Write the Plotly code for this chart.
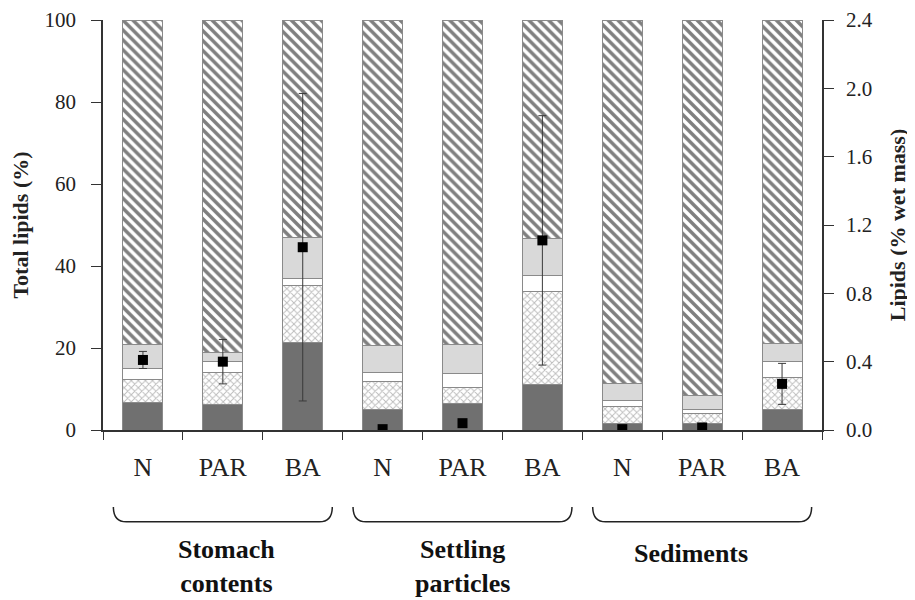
import plotly.graph_objects as go

groups = ["Stomach<br>contents", "Settling<br>particles", "Sediments"]
treatments = ["N", "PAR", "BA"]
categories = [f"{g}|{t}" for g in groups for t in treatments]
tick_labels = treatments * 3

# Lipid class composition (% of total lipids), bottom to top
seg_dark = [6.7, 6.3, 21.4, 5.0, 6.4, 11.2, 1.6, 1.6, 5.0]
seg_cross = [5.7, 7.8, 13.8, 6.8, 3.9, 22.5, 4.1, 2.5, 7.8]
seg_white = [2.6, 2.5, 1.7, 2.3, 3.4, 3.9, 1.6, 0.9, 3.9]
seg_gray = [5.9, 2.3, 10.1, 6.5, 7.2, 9.2, 4.1, 3.5, 4.4]
seg_hatch = [79.1, 81.1, 53.0, 79.4, 79.1, 53.2, 88.6, 91.5, 78.9]

# Total lipids (% wet mass), right axis
lipid_wet = [0.41, 0.40, 1.07, 0.005, 0.04, 1.11, 0.005, 0.015, 0.27]
lipid_err = [0.05, 0.13, 0.90, 0.0, 0.0, 0.73, 0.0, 0.0, 0.12]

FONT = "Liberation Serif, Times New Roman, serif"
OUT = "#8a8a8a"
AX = "#333333"

fig = go.Figure()

seg_styles = [
    (seg_dark, dict(color="#707070")),
    (seg_cross, dict(color="white", pattern=dict(shape="x", fgcolor="#7a7a7a", bgcolor="white", size=5, solidity=0.35))),
    (seg_white, dict(color="white")),
    (seg_gray, dict(color="#d9d9d9")),
    (seg_hatch, dict(color="white", pattern=dict(shape="\\", fgcolor="#000000", bgcolor="white", size=7, solidity=0.5))),
]
for vals, mk in seg_styles:
    mk = dict(mk)
    mk["line"] = dict(color=OUT, width=1)
    fig.add_trace(go.Bar(x=categories, y=vals, marker=mk, showlegend=False,
                         hoverinfo="skip"))

fig.add_trace(go.Scatter(
    x=categories, y=lipid_wet, yaxis="y2", mode="markers",
    marker=dict(symbol="square", size=10, color="black"),
    error_y=dict(type="data", array=lipid_err, visible=True, color="#3a3a3a",
                 thickness=1, width=4),
    showlegend=False,
))

fig.update_layout(
    barmode="stack",
    bargap=0.5,
    width=907, height=592,
    margin=dict(l=95, r=93, t=12, b=170),
    plot_bgcolor="white", paper_bgcolor="white",
    font=dict(family=FONT, color="#222222", size=21),
    xaxis=dict(
        type="category", tickvals=categories, ticktext=tick_labels,
        tickson="boundaries", ticks="outside", ticklen=8, tickcolor=AX,
        showline=True, linecolor=AX, linewidth=1.5, automargin=False,
        tickfont=dict(size=26, family=FONT), ticklabelstandoff=13,
        range=[-0.5, 8.5], showgrid=False, zeroline=False,
    ),
    yaxis=dict(
        range=[0, 100], dtick=20, ticks="outside", ticklen=10, tickcolor=AX,
        showline=True, linecolor=AX, linewidth=1.5, showgrid=False, automargin=False,
        zeroline=False, tickfont=dict(size=21, family=FONT), ticklabelstandoff=11,
        title=dict(text="<b>Total lipids (%)</b>", font=dict(size=22, family=FONT), standoff=14),
    ),
    yaxis2=dict(
        overlaying="y", side="right", range=[0, 2.4],
        tickvals=[0, 0.4, 0.8, 1.2, 1.6, 2.0, 2.4], tickformat=".1f",
        ticks="outside", ticklen=10, tickcolor=AX, automargin=False,
        showline=True, linecolor=AX, linewidth=1.5, showgrid=False,
        zeroline=False, tickfont=dict(size=21, family=FONT), ticklabelstandoff=8,
        title=dict(text="<b>Lipids (% wet mass)</b>", font=dict(size=22, family=FONT), standoff=18),
    ),
)

# group braces and labels, derived from category indices
n = len(categories)
def px(idx):
    return (idx + 0.5) / n

y_top, y_bot = -0.188, -0.224
dx = 0.018
label_shift = [0.05, 0.0, -0.14]
for gi, g in enumerate(groups):
    x0 = px(gi * 3 - 0.5 + 0.13)
    x1 = px(gi * 3 + 2.5 - 0.13)
    path = (f"M {x0},{y_top} Q {x0},{y_bot} {x0+dx},{y_bot} "
            f"L {x1-dx},{y_bot} Q {x1},{y_bot} {x1},{y_top}")
    fig.add_shape(type="path", path=path, xref="paper", yref="paper",
                  line=dict(color="#222222", width=1.5))
    two_line = "<br>" in g
    fig.add_annotation(
        x=px(gi * 3 + 1 + label_shift[gi]), y=-0.333 if two_line else -0.300,
        xref="paper", yref="paper", text=f"<b>{g}</b>", showarrow=False,
        font=dict(size=26, family=FONT, color="#111"),
        xanchor="center", yanchor="middle",
    )

fig.write_html("out.html")
